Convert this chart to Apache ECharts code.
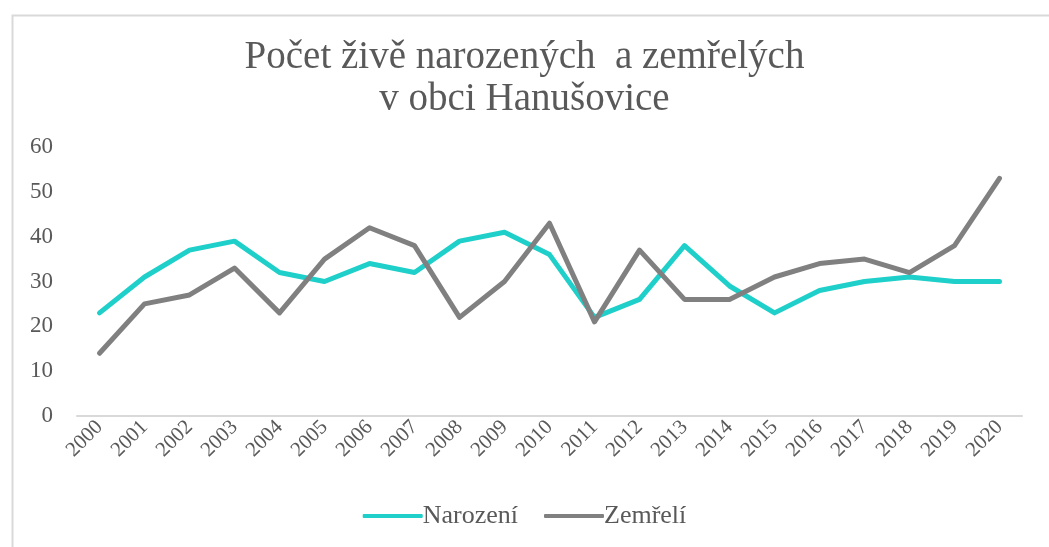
<!DOCTYPE html>
<html>
<head>
<meta charset="utf-8">
<script src="https://cdn.jsdelivr.net/npm/echarts@6/dist/echarts.min.js"></script>
<style>
html,body{margin:0;padding:0;background:#fff;}
#c{width:1049px;height:547px;}
</style>
</head>
<body>
<div id="c"></div>
<script>
const years = ['2000','2001','2002','2003','2004','2005','2006','2007','2008','2009','2010','2011','2012','2013','2014','2015','2016','2017','2018','2019','2020'];
const narozeni = [23,31,37,39,32,30,34,32,39,41,36,22,26,38,29,23,28,30,31,30,30];
const zemreli = [14,25,27,33,23,35,42,38,22,30,43,21,37,26,26,31,34,35,32,38,53];
const yTicks = [0,10,20,30,40,50,60];

const serif = '"Liberation Serif","Times New Roman",serif';
const chart = echarts.init(document.getElementById('c'), null, {renderer:'canvas'});
chart.setOption({
  animation:false,
  backgroundColor:'#fff',
  graphic:[{type:'rect',left:10,top:13,shape:{width:1100,height:600},style:{fill:'none',stroke:'#d9d9d9',lineWidth:2},z:-1}],
  title:{
    text:'Počet živě narozených  a zemřelých\nv obci Hanušovice',
    left:'center', top:32,
    textStyle:{fontFamily:serif,fontSize:39,fontWeight:'normal',color:'#595959',lineHeight:42}
  },
  legend:{
    bottom:13, left:'center',
    itemWidth:60, itemHeight:4, itemGap:26,
    icon:'roundRect',
    textStyle:{fontFamily:serif,fontSize:26,color:'#595959',padding:[0,0,0,-5]},
    data:['Narození','Zemřelí']
  },
  grid:{left:77,right:27,top:147,bottom:131},
  xAxis:{
    type:'category', data:years, boundaryGap:true,
    axisLine:{lineStyle:{color:'#d9d9d9',width:2}},
    axisTick:{show:false},
    axisLabel:{rotate:45,fontFamily:serif,fontSize:21,color:'#595959',margin:8,interval:0}
  },
  yAxis:{
    type:'value', min:0, max:60, interval:10,
    axisLine:{show:false}, axisTick:{show:false},
    splitLine:{show:false},
    axisLabel:{fontFamily:serif,fontSize:23,color:'#595959',margin:24,
      formatter:function(v){return yTicks.indexOf(v)>=0?String(v):'';}}
  },
  series:[
    {name:'Narození',type:'line',data:narozeni,symbol:'none',color:'#1fcfc9',
     lineStyle:{width:5,color:'#1fcfc9',cap:'round',join:'round'}},
    {name:'Zemřelí',type:'line',data:zemreli,symbol:'none',color:'#808080',
     lineStyle:{width:5,color:'#808080',cap:'round',join:'round'}}
  ]
});
</script>
</body>
</html>
